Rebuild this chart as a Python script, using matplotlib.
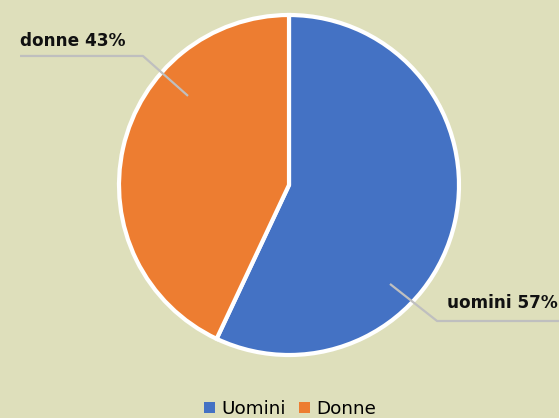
import matplotlib.pyplot as plt
from matplotlib.patches import Patch

labels = ['Uomini', 'Donne']
shares = [57, 43]
colors = ['#4472C4', '#ED7D31']
bg = '#DEDFBB'

fig = plt.figure(figsize=(5.59, 4.18), dpi=100, facecolor=bg)
# pie sits in a square box, centre (289,185) px, radius 170 px
ax = fig.add_axes([119/559, 63/418, 340/559, 340/418])
ax.set_facecolor(bg)
ax.pie(shares, colors=colors, startangle=90, counterclock=False,
       wedgeprops=dict(edgecolor='white', linewidth=3))
ax.set_xlim(-1, 1)
ax.set_ylim(-1, 1)
ax.set_aspect('equal')
ax.axis('off')

# leader lines and data labels
line_kw = dict(color='#BFBFBF', lw=1.6, clip_on=False, solid_capstyle='butt')
ax.plot([-1.582, -0.859, -0.594], [0.759, 0.759, 0.524], **line_kw)
ax.plot([0.594, 0.871, 1.588], [-0.582, -0.8, -0.8], **line_kw)
ax.text(-1.582, 0.795, f'{labels[1].lower()} {shares[1]}%', fontsize=12.2,
        fontweight='bold', family='DejaVu Sans', ha='left', va='bottom', color='#111111')
ax.text(1.578, -0.748, f'{labels[0].lower()} {shares[0]}%', fontsize=12.2,
        fontweight='bold', family='DejaVu Sans', ha='right', va='bottom', color='#111111')

handles = [Patch(facecolor=c, edgecolor='none') for c in colors]
fig.legend(handles, labels, loc='center', bbox_to_anchor=(290/559, 9/418),
           ncol=2, frameon=False, handlelength=0.6, handleheight=0.6,
           handletextpad=0.35, columnspacing=0.7,
           prop={'family': 'DejaVu Sans', 'size': 13.2})

fig.savefig('out.png', dpi=100, facecolor=bg)
